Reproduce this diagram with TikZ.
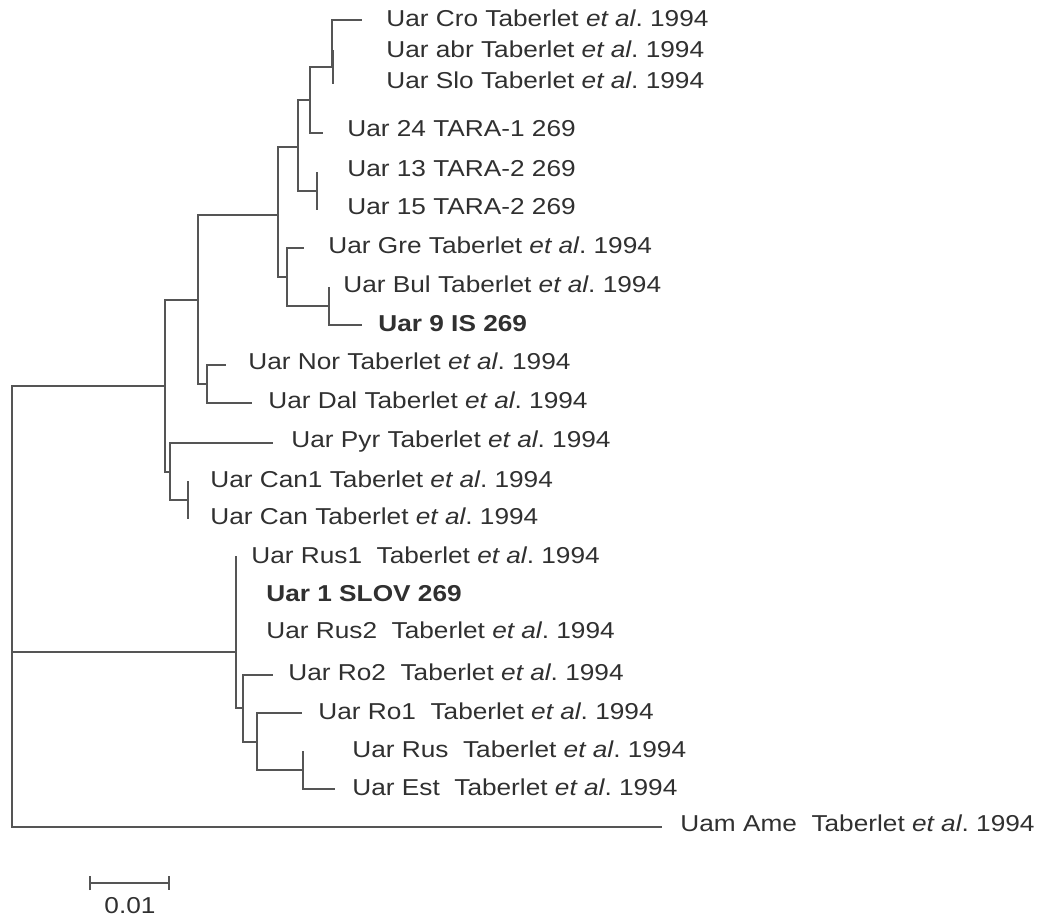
\documentclass[tikz,border=0pt]{standalone}
\usepackage{fontspec}
\setmainfont{Liberation Sans}[FakeStretch=1.14]
\usetikzlibrary{arrows.meta}
\definecolor{branchgray}{HTML}{555555}
\definecolor{labelgray}{HTML}{303030}
\newcommand{\taberlet}{Taberlet \textit{et al}.\ 1994}

\begin{document}
\begin{tikzpicture}[x=0.5pt, y=-0.5pt,
    branch/.style={draw=branchgray, line width=1.1pt},
    taxon/.style={anchor=west, inner sep=0pt, text height=8.2pt, text depth=0pt,
      text=labelgray, yshift=1pt, font=\fontsize{11.5}{14}\selectfont},
    ours/.style={taxon, font=\fontsize{11.5}{14}\selectfont\bfseries}]
  \useasboundingbox (0,0) rectangle (1038,918);

  % inner nodes
  \coordinate (root) at (12,652);
  \coordinate (nI) at (165,386);
  \coordinate (nG) at (198,300);
  \coordinate (nJ) at (170,472);
  \coordinate (nD) at (278,215);
  \coordinate (nH) at (207,384);
  \coordinate (nC) at (298,147);
  \coordinate (nE) at (287,277);
  \coordinate (nB) at (310,100);
  \coordinate (n1315) at (317,191);
  \coordinate (nA) at (332,67);
  \coordinate (nAS) at (333,67);
  \coordinate (nF) at (329,306);
  \coordinate (nK) at (188,500);
  \coordinate (nL) at (236,652);
  \coordinate (nM) at (243,708);
  \coordinate (nN) at (257,742);
  \coordinate (nO) at (303,770);

  % leaf tips
  \coordinate (cro-t) at (362,20);
  \coordinate (abr-t) at (333,50);
  \coordinate (slo-t) at (333,84);
  \coordinate (t24-t) at (323,133);
  \coordinate (t13-t) at (317,172);
  \coordinate (t15-t) at (317,210);
  \coordinate (gre-t) at (304,248);
  \coordinate (bul-t) at (329,287);
  \coordinate (is9-t) at (362,325);
  \coordinate (nor-t) at (226,365);
  \coordinate (dal-t) at (252,403);
  \coordinate (pyr-t) at (273,443);
  \coordinate (can1-t) at (188,481);
  \coordinate (can-t) at (188,519);
  \coordinate (rus1-t) at (236,556);
  \coordinate (rus2-t) at (236,632);
  \coordinate (ro2-t) at (273,675);
  \coordinate (ro1-t) at (302,713);
  \coordinate (rus-t) at (303,751);
  \coordinate (est-t) at (335,789);
  \coordinate (ame-t) at (662,827);

  % branches
  \draw[branch] (root) |- (nI);
  \draw[branch] (root) -- (nL);
  \draw[branch] (root) |- (ame-t);
  \draw[branch] (nI) |- (nG);
  \draw[branch] (nI) |- (nJ);
  \draw[branch] (nG) |- (nD);
  \draw[branch] (nG) |- (nH);
  \draw[branch] (nD) |- (nC);
  \draw[branch] (nD) |- (nE);
  \draw[branch] (nC) |- (nB);
  \draw[branch] (nC) |- (n1315);
  \draw[branch] (nB) |- (nA);
  \draw[branch] (nB) |- (t24-t);
  \draw[branch] (nA) |- (cro-t);
  \draw[branch] (nA) -- (nAS);
  \draw[branch] (nAS) -- (abr-t);
  \draw[branch] (nAS) -- (slo-t);
  \draw[branch] (n1315) -- (t13-t);
  \draw[branch] (n1315) -- (t15-t);
  \draw[branch] (nE) |- (gre-t);
  \draw[branch] (nE) |- (nF);
  \draw[branch] (nF) -- (bul-t);
  \draw[branch] (nF) |- (is9-t);
  \draw[branch] (nH) |- (nor-t);
  \draw[branch] (nH) |- (dal-t);
  \draw[branch] (nJ) |- (pyr-t);
  \draw[branch] (nJ) |- (nK);
  \draw[branch] (nK) -- (can1-t);
  \draw[branch] (nK) -- (can-t);
  \draw[branch] (nL) -- (rus1-t);
  \draw[branch] (nL) -- (rus2-t);
  \draw[branch] (nL) |- (nM);
  \draw[branch] (nM) |- (ro2-t);
  \draw[branch] (nM) |- (nN);
  \draw[branch] (nN) |- (ro1-t);
  \draw[branch] (nN) |- (nO);
  \draw[branch] (nO) -- (rus-t);
  \draw[branch] (nO) |- (est-t);

  % taxa
  \node[taxon] (cro) at (386,20) {Uar Cro \taberlet};
  \node[taxon] (abr) at (386,51) {Uar abr \taberlet};
  \node[taxon] (slo) at (386,82) {Uar Slo \taberlet};
  \node[taxon] (t24) at (347,130) {Uar 24 TARA-1 269};
  \node[taxon] (t13) at (347,170) {Uar 13 TARA-2 269};
  \node[taxon] (t15) at (347,208) {Uar 15 TARA-2 269};
  \node[taxon] (gre) at (328,247) {Uar Gre \taberlet};
  \node[taxon] (bul) at (343,286) {Uar Bul \taberlet};
  \node[ours] (is9) at (378,325) {Uar 9 IS 269};
  \node[taxon] (nor) at (248,363) {Uar Nor \taberlet};
  \node[taxon] (dal) at (268,402) {Uar Dal \taberlet};
  \node[taxon] (pyr) at (291,441) {Uar Pyr \taberlet};
  \node[taxon] (can1) at (210,481) {Uar Can1 \taberlet};
  \node[taxon] (can) at (210,518) {Uar Can \taberlet};
  \node[taxon] (rus1) at (251,557) {Uar Rus1\ \ \taberlet};
  \node[ours] (slov) at (266,595) {Uar 1 SLOV 269};
  \node[taxon] (rus2) at (266,632) {Uar Rus2\ \ \taberlet};
  \node[taxon] (ro2) at (288,674) {Uar Ro2\ \ \taberlet};
  \node[taxon] (ro1) at (318,713) {Uar Ro1\ \ \taberlet};
  \node[taxon] (rus) at (352,751) {Uar Rus\ \ \taberlet};
  \node[taxon] (est) at (352,789) {Uar Est\ \ \taberlet};
  \node[taxon] (ame) at (680,825) {Uam Ame\ \ \taberlet};

  % scale bar
  \coordinate (sb-l) at (89,883);
  \coordinate (sb-r) at (170,883);
  \draw[branch, {Bar[width=7pt]}-{Bar[width=7pt]}] (sb-l) -- (sb-r);
  \node[taxon, anchor=center] (sb) at (130,907) {0.01};
\end{tikzpicture}
\end{document}
